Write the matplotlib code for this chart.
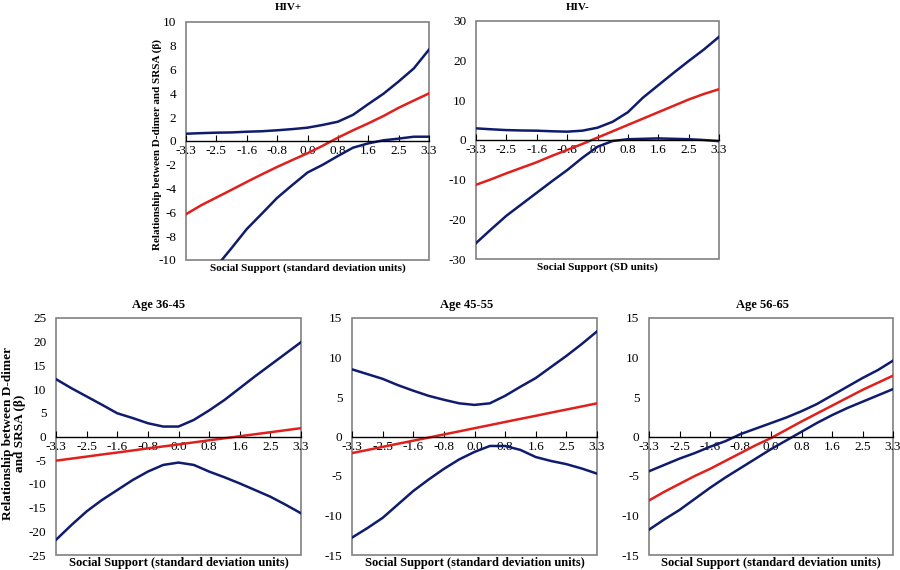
import numpy as np
import matplotlib
matplotlib.use("Agg")
import matplotlib.pyplot as plt
from matplotlib.patches import Rectangle

plt.rcParams['font.family'] = ['Liberation Serif', 'DejaVu Serif']
plt.rcParams['axes.unicode_minus'] = False

# social support categories (17 points, labels on every second one)
ss_labels = ['-3.3', '-2.5', '-1.6', '-0.8', '0.0', '0.8', '1.6', '2.5', '3.3']
n_pts = 17

# HIV+
hivp_upper = [0.61, 0.66, 0.7, 0.72, 0.78, 0.82, 0.9, 1.0, 1.12, 1.35, 1.62, 2.2, 3.1, 3.97, 5.0, 6.1, 7.68]
hivp_beta = [-6.15, -5.4, -4.75, -4.1, -3.44, -2.8, -2.18, -1.6, -1.03, -0.4, 0.28, 0.9, 1.48, 2.1, 2.79, 3.4, 4.0]
hivp_lower = [-13.7, -12.1, -10.55, -9.0, -7.4, -6.1, -4.78, -3.7, -2.65, -2.0, -1.26, -0.56, -0.2, 0.06, 0.2, 0.36, 0.36]

# HIV-
hivn_upper = [2.94, 2.7, 2.5, 2.4, 2.35, 2.2, 2.1, 2.35, 3.1, 4.6, 7.0, 10.7, 13.8, 16.9, 19.9, 22.8, 26.0]
hivn_beta = [-11.3, -9.9, -8.4, -7.0, -5.6, -4.0, -2.5, -1.0, 0.6, 2.2, 3.8, 5.4, 7.0, 8.6, 10.2, 11.6, 12.8]
hivn_lower = [-26.0, -22.5, -19.1, -16.2, -13.3, -10.4, -7.6, -4.5, -1.7, -0.25, 0.2, 0.3, 0.4, 0.3, 0.2, 0.0, -0.3]

# Age 36-45
a1_upper = [12.1, 10.2, 8.45, 6.7, 4.9, 3.9, 2.8, 2.1, 2.1, 3.5, 5.5, 7.7, 10.2, 12.7, 15.1, 17.5, 19.9]
a1_beta = [-5.1, -4.67, -4.24, -3.8, -3.38, -2.95, -2.5, -2.1, -1.67, -1.24, -0.8, -0.38, 0.05, 0.48, 0.9, 1.33, 1.76]
a1_lower = [-21.8, -18.7, -15.8, -13.4, -11.3, -9.2, -7.4, -6.0, -5.5, -6.0, -7.4, -8.6, -9.9, -11.3, -12.7, -14.4, -16.2]

# Age 45-55
a2_upper = [8.5, 7.9, 7.3, 6.5, 5.8, 5.15, 4.65, 4.2, 4.0, 4.2, 5.15, 6.3, 7.4, 8.8, 10.2, 11.7, 13.3]
a2_beta = [-2.1, -1.71, -1.31, -0.92, -0.53, -0.14, 0.26, 0.65, 1.05, 1.44, 1.84, 2.23, 2.62, 3.02, 3.41, 3.8, 4.2]
a2_lower = [-12.8, -11.6, -10.3, -8.6, -6.9, -5.45, -4.1, -2.9, -1.95, -1.2, -1.2, -1.7, -2.6, -3.1, -3.5, -4.05, -4.7]

# Age 56-65
a3_upper = [-4.4, -3.6, -2.8, -2.1, -1.3, -0.6, 0.3, 1.0, 1.7, 2.4, 3.2, 4.1, 5.2, 6.3, 7.4, 8.4, 9.6]
a3_beta = [-8.1, -7.0, -6.0, -5.0, -4.1, -3.1, -2.1, -1.1, -0.2, 0.85, 1.9, 2.9, 3.9, 4.9, 5.9, 6.8, 7.7]
a3_lower = [-11.8, -10.5, -9.3, -7.9, -6.5, -5.2, -4.0, -2.8, -1.6, -0.5, 0.6, 1.7, 2.7, 3.6, 4.4, 5.2, 6.0]

navy = '#0f1c6e'
red = '#e0201c'
W, H = 900, 570


def panel(px, title, title_pos, xlabel, lab_size, ylim, ystep, upper, beta, lower):
    l, t, r, b = px
    ax = plt.gcf().add_axes([l / W, (H - b) / H, (r - l) / W, (b - t) / H])
    x = np.arange(n_pts)
    ax.plot(x, upper, color=navy, lw=1.8)
    ax.plot(x, beta, color=red, lw=1.8)
    ax.plot(x, lower, color=navy, lw=1.8)
    ax.set_xlim(0, n_pts - 1)
    ax.set_ylim(*ylim)
    ax.set_yticks(np.arange(ylim[0], ylim[1] + 0.1, ystep))
    ax.set_xticks(np.arange(0, n_pts, 2))
    ax.set_xticklabels(ss_labels)
    ax.spines['bottom'].set_position(('data', 0))
    ax.spines['bottom'].set_color('black')
    ax.spines['bottom'].set_linewidth(1.0)
    for s in ['top', 'left', 'right']:
        ax.spines[s].set_visible(False)
    ax.add_patch(Rectangle((0, 0), 1, 1, transform=ax.transAxes, fill=False,
                           edgecolor='#808080', lw=1.2, clip_on=False))
    ax.tick_params(axis='x', direction='in', length=4, pad=3, labelsize=9.5)
    ax.tick_params(axis='y', length=0, pad=7, labelsize=9.5)
    fig = plt.gcf()
    fig.text(title_pos[0] / W, 1 - title_pos[1] / H, title, ha='center', va='center',
             fontsize=lab_size, fontweight='bold')
    fig.text((l + r) / 2 / W, 1 - (b + 8) / H, xlabel, ha='center', va='center',
             fontsize=lab_size, fontweight='bold')
    return ax


fig = plt.figure(figsize=(9, 5.7), dpi=100)

long_lab = 'Social Support (standard deviation units)'
panel((186, 22, 429, 260), 'HIV+', (288, 7), long_lab, 8, (-10, 10), 2,
      hivp_upper, hivp_beta, hivp_lower)
panel((476, 21, 719, 259), 'HIV-', (578, 7), 'Social Support (SD units)', 8, (-30, 30), 10,
      hivn_upper, hivn_beta, hivn_lower)
panel((56, 318, 301, 555), 'Age 36-45', (159, 305), long_lab, 9, (-25, 25), 5,
      a1_upper, a1_beta, a1_lower)
panel((352, 318, 597, 555), 'Age 45-55', (467, 305), long_lab, 9, (-15, 15), 5,
      a2_upper, a2_beta, a2_lower)
panel((649, 318, 893, 555), 'Age 56-65', (763, 305), long_lab, 9, (-15, 15), 5,
      a3_upper, a3_beta, a3_lower)

fig.text(157 / W, 1 - 145 / H, 'Relationship between D-dimer and SRSA (β)', rotation=90,
         ha='center', va='center', fontsize=8, fontweight='bold')
fig.text(14 / W, 1 - 433 / H, 'Relationship between D-dimer\nand SRSA (β)', rotation=90,
         ha='center', va='center', fontsize=9.5, fontweight='bold', multialignment='center',
         linespacing=0.95)

fig.savefig('out.png', dpi=100)
